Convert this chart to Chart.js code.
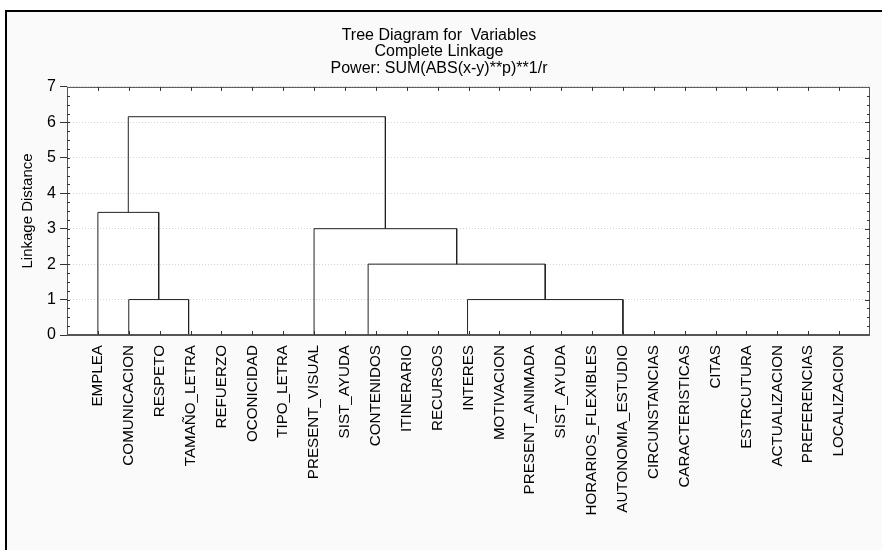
<!DOCTYPE html>
<html>
<head>
<meta charset="utf-8">
<script src="https://cdn.jsdelivr.net/npm/chart.js@4.4.1/dist/chart.umd.min.js"></script>
<style>
  html, body { margin: 0; padding: 0; background: #fff; }
  #wrap { width: 882px; height: 550px; }
</style>
</head>
<body>
<div id="wrap"><canvas id="treeChart" width="882" height="550"></canvas></div>
<script>
// leaf order
const variables = [
    "EMPLEA", "COMUNICACION", "RESPETO", "TAMAÑO_LETRA", "REFUERZO", "OCONICIDAD",
    "TIPO_LETRA", "PRESENT_VISUAL", "SIST_AYUDA", "CONTENIDOS", "ITINERARIO", "RECURSOS",
    "INTERES", "MOTIVACION", "PRESENT_ANIMADA", "SIST_AYUDA", "HORARIOS_FLEXIBLES",
    "AUTONOMIA_ESTUDIO", "CIRCUNSTANCIAS", "CARACTERISTICAS", "CITAS", "ESTRCUTURA",
    "ACTUALIZACION", "PREFERENCIAS", "LOCALIZACION"
];

// merges: node ids 0..24 are leaves, merge k creates node 25 + k
const mergeLeft   = [5, 4, 3, 2, 1,    0,    9, 8, 15, 14, 13, 12, 11, 37, 32, 7,   30,   23, 22, 21, 20, 19, 18];
const mergeRight  = [6, 25, 26, 27, 28, 29,  10, 31, 16, 33, 34, 35, 36, 17, 38, 39, 40,  24, 42, 43, 44, 45, 46];
const mergeHeight = [0, 0, 0, 0, 1.0,  3.46, 0, 0, 0, 0, 0, 0, 0, 1.0, 2.0, 3.0, 6.16,  0, 0, 0, 0, 0, 0];

const yTicks = [0, 1, 2, 3, 4, 5, 6, 7];
const titleLines = ["Tree Diagram for  Variables", "Complete Linkage", "Power: SUM(ABS(x-y)**p)**1/r"];

const FONT = "'Liberation Sans', Arial, sans-serif";

document.addEventListener("DOMContentLoaded", function () {
    const ctx = document.getElementById("treeChart").getContext("2d");

    // dendrogram layout: a leaf sits at its rank, a cluster at the middle of its join line
    const nodeX = variables.map((v, i) => i + 1);
    const nodeH = variables.map(() => 0);
    const datasets = [];
    mergeLeft.forEach((a, k) => {
        const b = mergeRight[k];
        const h = mergeHeight[k];
        datasets.push({
            data: [
                { x: nodeX[a], y: nodeH[a] },
                { x: nodeX[a], y: h },
                { x: nodeX[b], y: h },
                { x: nodeX[b], y: nodeH[b] }
            ],
            showLine: true,
            borderColor: "#222",
            borderWidth: 1,
            pointRadius: 0,
            tension: 0,
            clip: false
        });
        nodeX.push((nodeX[a] + nodeX[b]) / 2);
        nodeH.push(h);
    });

    const framePlugin = {
        id: "frame",
        beforeDraw(chart) {
            const c = chart.ctx;
            const area = chart.chartArea;
            c.save();
            c.fillStyle = "#fff";
            c.fillRect(0, 0, chart.width, chart.height);
            c.fillStyle = "#fafafa";
            c.fillRect(7, 12, chart.width - 7, chart.height - 12);
            c.fillStyle = "#000";
            c.fillRect(5, 10, chart.width - 5, 2);
            c.fillRect(5, 10, 2, chart.height - 10);
            c.fillStyle = "#fff";
            c.fillRect(area.left, area.top, area.right - area.left, area.bottom - area.top);
            c.restore();
        },
        afterDraw(chart) {
            const c = chart.ctx;
            const area = chart.chartArea;
            const xs = chart.scales.x;
            const ys = chart.scales.y;
            c.save();
            c.strokeStyle = "#555";
            c.lineWidth = 1;
            c.strokeRect(area.left + 0.5, area.top + 0.5, area.right - area.left - 1, area.bottom - area.top - 1);
            c.lineWidth = 2;
            c.beginPath();
            c.moveTo(area.left, area.bottom);
            c.lineTo(area.right, area.bottom);
            c.stroke();
            c.lineWidth = 1;
            c.strokeStyle = "#333";
            c.beginPath();
            // inside ticks on bottom and top edges at each leaf
            variables.forEach((v, i) => {
                const px = Math.round(xs.getPixelForValue(i + 1)) + 0.5;
                c.moveTo(px, area.bottom);
                c.lineTo(px, area.bottom - 4);
                c.moveTo(px, area.top);
                c.lineTo(px, area.top + 4);
            });
            // minor ticks on both vertical edges
            for (let q = 1; q < 28; q++) {
                const py = Math.round(ys.getPixelForValue(q / 4)) + 0.5;
                const len = q % 4 === 0 ? 5 : 3;
                c.moveTo(area.left, py);
                c.lineTo(area.left + 3, py);
                c.moveTo(area.right, py);
                c.lineTo(area.right - len, py);
            }
            c.stroke();
            c.restore();
        }
    };

    new Chart(ctx, {
        type: "scatter",
        data: { datasets: datasets },
        options: {
            responsive: false,
            animation: false,
            layout: { padding: { top: 12, left: 8, right: 12, bottom: 0 } },
            plugins: {
                legend: { display: false },
                tooltip: { enabled: false },
                title: {
                    display: true,
                    text: titleLines,
                    color: "#000",
                    font: { family: FONT, size: 16, weight: "normal", lineHeight: 1.03 },
                    padding: { top: 15, bottom: 10.5 }
                }
            },
            scales: {
                x: {
                    type: "linear",
                    min: 0,
                    max: variables.length + 1,
                    afterBuildTicks: scale => {
                        scale.ticks = variables.map((v, i) => ({ value: i + 1 }));
                    },
                    afterFit: scale => { scale.height = 215; },
                    grid: { display: false },
                    border: { display: false },
                    ticks: {
                        autoSkip: false,
                        minRotation: 90,
                        maxRotation: 90,
                        padding: 2,
                        color: "#000",
                        font: { family: FONT, size: 15.2 },
                        callback: value => variables[value - 1] || ""
                    }
                },
                y: {
                    min: 0,
                    max: 7,
                    afterBuildTicks: scale => {
                        scale.ticks = yTicks.map(v => ({ value: v }));
                    },
                    afterFit: scale => { scale.width = 59; },
                    grid: {
                        color: "#d4d4d4",
                        lineWidth: 1,
                        tickLength: 7,
                        tickColor: "#333",
                        tickBorderDash: []
                    },
                    border: { display: false, dash: [1, 2] },
                    ticks: {
                        padding: 4,
                        color: "#000",
                        font: { family: FONT, size: 16 }
                    },
                    title: {
                        display: true,
                        text: "Linkage Distance",
                        color: "#000",
                        font: { family: FONT, size: 15 },
                        padding: { top: 11, bottom: 0 }
                    }
                }
            }
        },
        plugins: [framePlugin]
    });
});
</script>
</body>
</html>
